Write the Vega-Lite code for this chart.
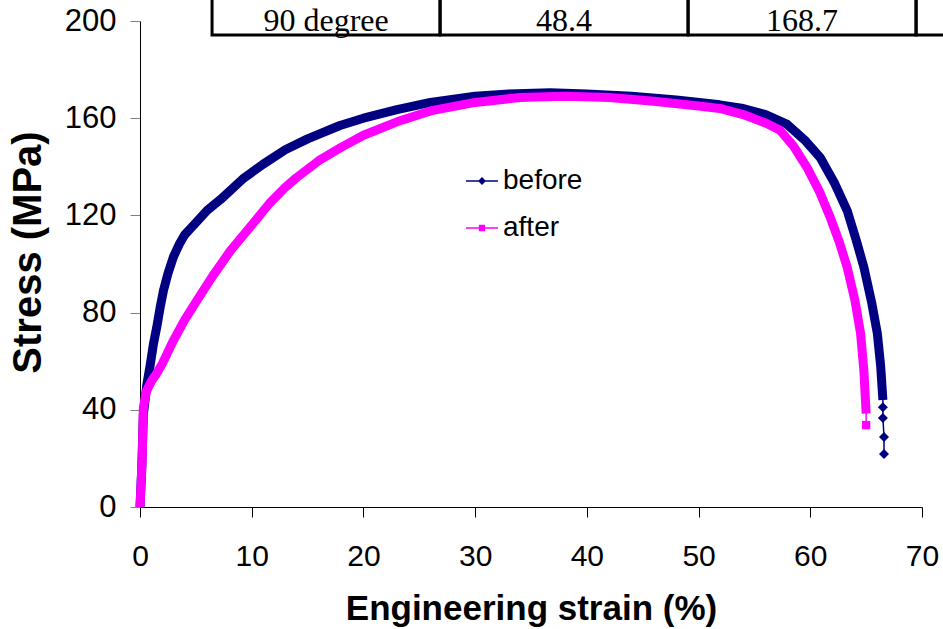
{
  "$schema": "https://vega.github.io/schema/vega-lite/v6.json",
  "width": 782,
  "height": 486,
  "autosize": {"type": "none"},
  "padding": {"left": 140, "top": 21, "right": 21, "bottom": 122},
  "background": "white",
  "config": {"view": {"stroke": null}, "font": "Liberation Sans"},
  "datasets": {
    "curves": [
      {"series": "before", "strain": 0, "stress": 0},
      {"series": "before", "strain": 0.15, "stress": 15},
      {"series": "before", "strain": 0.3, "stress": 38},
      {"series": "before", "strain": 0.6, "stress": 50},
      {"series": "before", "strain": 0.9, "stress": 58},
      {"series": "before", "strain": 1.2, "stress": 67},
      {"series": "before", "strain": 1.5, "stress": 74},
      {"series": "before", "strain": 1.8, "stress": 82},
      {"series": "before", "strain": 2.1, "stress": 89},
      {"series": "before", "strain": 2.5, "stress": 96},
      {"series": "before", "strain": 3.0, "stress": 103},
      {"series": "before", "strain": 3.5, "stress": 108},
      {"series": "before", "strain": 4.0, "stress": 112},
      {"series": "before", "strain": 4.5, "stress": 114.5},
      {"series": "before", "strain": 5.0, "stress": 117},
      {"series": "before", "strain": 6.0, "stress": 122},
      {"series": "before", "strain": 7.2, "stress": 126.5},
      {"series": "before", "strain": 9.2, "stress": 135},
      {"series": "before", "strain": 11, "stress": 141},
      {"series": "before", "strain": 13, "stress": 147},
      {"series": "before", "strain": 15, "stress": 151.5},
      {"series": "before", "strain": 17.9, "stress": 157},
      {"series": "before", "strain": 20, "stress": 160},
      {"series": "before", "strain": 23, "stress": 163.5},
      {"series": "before", "strain": 26, "stress": 166.5},
      {"series": "before", "strain": 30, "stress": 169},
      {"series": "before", "strain": 33, "stress": 170},
      {"series": "before", "strain": 36.7, "stress": 170.5},
      {"series": "before", "strain": 40, "stress": 170},
      {"series": "before", "strain": 44, "stress": 169},
      {"series": "before", "strain": 48, "stress": 167.5},
      {"series": "before", "strain": 51.9, "stress": 165.5},
      {"series": "before", "strain": 54, "stress": 164},
      {"series": "before", "strain": 56, "stress": 161.5},
      {"series": "before", "strain": 57.9, "stress": 157.6},
      {"series": "before", "strain": 59.5, "stress": 151},
      {"series": "before", "strain": 60.9, "stress": 143.7},
      {"series": "before", "strain": 62.2, "stress": 133},
      {"series": "before", "strain": 63.3, "stress": 122},
      {"series": "before", "strain": 64.1, "stress": 110},
      {"series": "before", "strain": 64.8, "stress": 98.6},
      {"series": "before", "strain": 65.5, "stress": 84},
      {"series": "before", "strain": 66.0, "stress": 71.5},
      {"series": "before", "strain": 66.3, "stress": 58},
      {"series": "before", "strain": 66.5, "stress": 44},
      {"series": "before", "strain": 66.5, "stress": 41},
      {"series": "before", "strain": 66.5, "stress": 36.6},
      {"series": "before", "strain": 66.6, "stress": 28.8},
      {"series": "before", "strain": 66.6, "stress": 21.8},
      {"series": "after", "strain": 0, "stress": 0},
      {"series": "after", "strain": 0.2, "stress": 20},
      {"series": "after", "strain": 0.3, "stress": 41},
      {"series": "after", "strain": 0.6, "stress": 48},
      {"series": "after", "strain": 1.05, "stress": 52},
      {"series": "after", "strain": 1.5, "stress": 55},
      {"series": "after", "strain": 2.0, "stress": 59},
      {"series": "after", "strain": 3.0, "stress": 68.6},
      {"series": "after", "strain": 4.0, "stress": 77},
      {"series": "after", "strain": 5.1, "stress": 85},
      {"series": "after", "strain": 6.5, "stress": 95},
      {"series": "after", "strain": 8.1, "stress": 105.5},
      {"series": "after", "strain": 10, "stress": 116},
      {"series": "after", "strain": 11.6, "stress": 125},
      {"series": "after", "strain": 13, "stress": 131.5},
      {"series": "after", "strain": 14, "stress": 135.5},
      {"series": "after", "strain": 16, "stress": 142.5},
      {"series": "after", "strain": 18, "stress": 148},
      {"series": "after", "strain": 20, "stress": 153},
      {"series": "after", "strain": 23, "stress": 158.5},
      {"series": "after", "strain": 26, "stress": 163},
      {"series": "after", "strain": 30, "stress": 166.5},
      {"series": "after", "strain": 34, "stress": 168.5},
      {"series": "after", "strain": 38, "stress": 169},
      {"series": "after", "strain": 42, "stress": 168.5},
      {"series": "after", "strain": 46, "stress": 167},
      {"series": "after", "strain": 50, "stress": 165},
      {"series": "after", "strain": 51.9, "stress": 164},
      {"series": "after", "strain": 54, "stress": 161.5},
      {"series": "after", "strain": 56, "stress": 158},
      {"series": "after", "strain": 57.3, "stress": 155},
      {"series": "after", "strain": 58.5, "stress": 148.5},
      {"series": "after", "strain": 59.7, "stress": 139.8},
      {"series": "after", "strain": 60.8, "stress": 130},
      {"series": "after", "strain": 61.8, "stress": 119},
      {"series": "after", "strain": 62.6, "stress": 109},
      {"series": "after", "strain": 63.3, "stress": 98.7},
      {"series": "after", "strain": 64.0, "stress": 85},
      {"series": "after", "strain": 64.5, "stress": 71.5},
      {"series": "after", "strain": 64.8, "stress": 56},
      {"series": "after", "strain": 65.0, "stress": 38.5},
      {"series": "after", "strain": 65.0, "stress": 33.7}
    ],
    "table": [
      {"label": "90 degree", "x0": 6.45, "x1": 26.86, "y0": 194.2, "y1": 240},
      {"label": "48.4", "x0": 26.86, "x1": 49.06, "y0": 194.2, "y1": 240},
      {"label": "168.7", "x0": 49.06, "x1": 69.47, "y0": 194.2, "y1": 240},
      {"label": "", "x0": 69.47, "x1": 90, "y0": 194.2, "y1": 240}
    ]
  },
  "layer": [
    {
      "data": {"name": "curves"},
      "mark": {"type": "line", "strokeWidth": 1.5},
      "encoding": {
        "x": {
          "field": "strain", "type": "quantitative",
          "scale": {"domain": [0, 70], "nice": false},
          "axis": {
            "title": "Engineering strain (%)",
            "values": [0, 10, 20, 30, 40, 50, 60, 70],
            "grid": false,
            "labelFont": "Liberation Sans", "labelFontSize": 30, "labelColor": "black", "labelPadding": 24,
            "titleFont": "Liberation Sans", "titleFontSize": 35, "titleFontWeight": "bold", "titleColor": "black", "titlePadding": 20,
            "domainColor": "black", "tickColor": "black", "tickSize": 10, "labelFlush": false
          }
        },
        "y": {
          "field": "stress", "type": "quantitative",
          "scale": {"domain": [0, 200], "nice": false},
          "axis": {
            "title": "Stress (MPa)",
            "values": [0, 40, 80, 120, 160, 200],
            "grid": false,
            "labelFont": "Liberation Sans", "labelFontSize": 31, "labelColor": "black", "labelPadding": 14,
            "titleFont": "Liberation Sans", "titleFontSize": 40, "titleFontWeight": "bold", "titleColor": "black", "titlePadding": 16,
            "titleY": 231,
            "domainColor": "black", "tickColor": "#808080", "tickSize": 10
          }
        },
        "color": {
          "field": "series", "type": "nominal",
          "scale": {"domain": ["before", "after"], "range": ["#000080", "#FF00FF"]},
          "legend": {
            "title": null,
            "orient": "none",
            "legendX": 325,
            "legendY": 143,
            "labelFont": "Liberation Sans",
            "labelFontSize": 28,
            "labelColor": "black",
            "labelOffset": 4,
            "rowPadding": 16,
            "symbolSize": 1024,
            "encode": {
              "symbols": {
                "update": {
                  "shape": {"signal": "datum.value == 'before' ? 'M-1,0H1M0,-0.18L0.18,0L0,0.18L-0.18,0Z' : 'M-1,0H1M-0.15,-0.15H0.15V0.15H-0.15Z'"},
                  "stroke": {"scale": "color", "field": "value"},
                  "fill": {"scale": "color", "field": "value"},
                  "strokeWidth": {"value": 1.5},
                  "opacity": {"value": 1}
                }
              }
            }
          }
        },
        "detail": {"field": "series"}
      }
    },
    {
      "data": {"name": "curves"},
      "transform": [{"filter": "datum.strain < 60 || (datum.series == 'before' && datum.stress >= 43) || (datum.series == 'after' && datum.stress >= 37)"}],
      "mark": {"type": "line", "strokeWidth": 9, "strokeJoin": "round"},
      "encoding": {
        "x": {"field": "strain", "type": "quantitative"},
        "y": {"field": "stress", "type": "quantitative"},
        "color": {"field": "series", "type": "nominal"},
        "detail": {"field": "series"}
      }
    },
    {
      "data": {"name": "curves"},
      "transform": [{"filter": "datum.series == 'before' && datum.strain > 60 && datum.stress < 43"}],
      "mark": {"type": "point", "filled": true, "opacity": 1, "size": 100, "shape": "diamond"},
      "encoding": {
        "x": {"field": "strain", "type": "quantitative"},
        "y": {"field": "stress", "type": "quantitative"},
        "color": {"field": "series", "type": "nominal"}
      }
    },
    {
      "data": {"name": "curves"},
      "transform": [{"filter": "datum.series == 'after' && datum.strain > 60 && datum.stress < 37"}],
      "mark": {"type": "point", "filled": true, "opacity": 1, "size": 70, "shape": "square"},
      "encoding": {
        "x": {"field": "strain", "type": "quantitative"},
        "y": {"field": "stress", "type": "quantitative"},
        "color": {"field": "series", "type": "nominal"}
      }
    },
    {
      "data": {"name": "table"},
      "mark": {"type": "rect", "fill": "white", "fillOpacity": 0, "stroke": "black", "strokeWidth": 3, "clip": false},
      "encoding": {
        "x": {"field": "x0", "type": "quantitative"},
        "x2": {"field": "x1"},
        "y": {"field": "y0", "type": "quantitative"},
        "y2": {"field": "y1"}
      }
    },
    {
      "data": {"name": "table"},
      "transform": [{"calculate": "(datum.x0 + datum.x1) / 2", "as": "xc"}, {"calculate": "datum.y0 + 1.8", "as": "yt"}],
      "mark": {"type": "text", "font": "Liberation Serif", "fontSize": 32, "baseline": "alphabetic", "align": "center", "color": "black", "clip": false},
      "encoding": {
        "x": {"field": "xc", "type": "quantitative"},
        "y": {"field": "yt", "type": "quantitative"},
        "text": {"field": "label"}
      }
    }
  ]
}
